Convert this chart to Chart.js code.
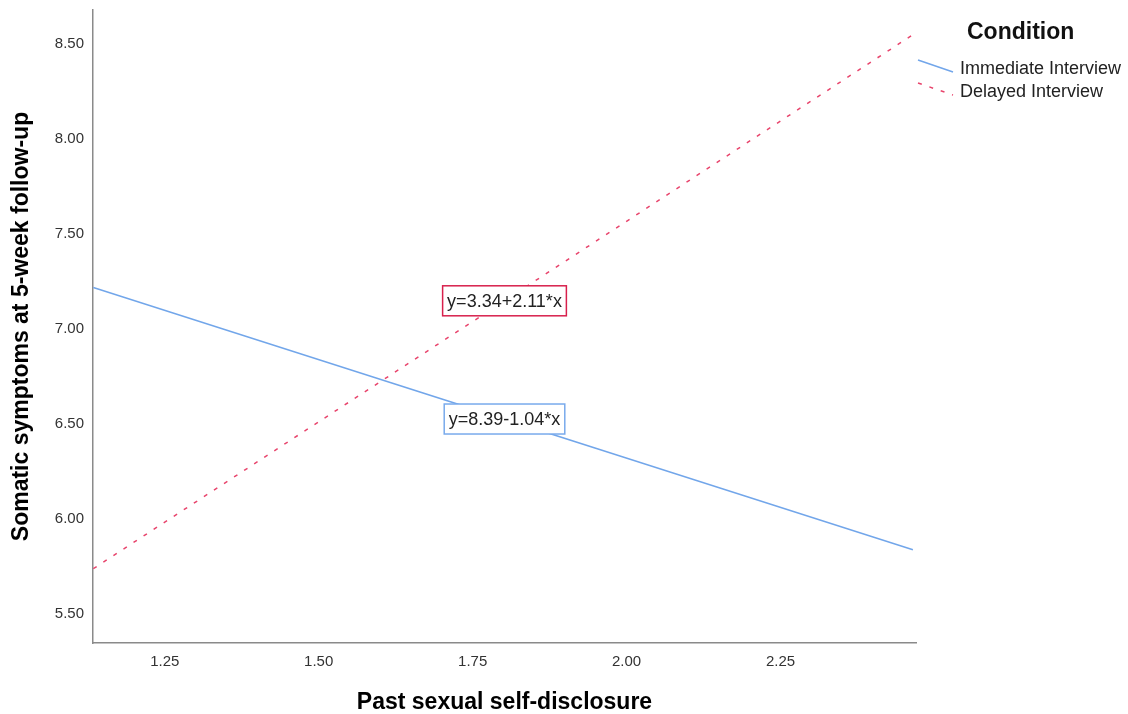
<!DOCTYPE html>
<html>
<head>
<meta charset="utf-8">
<script src="https://cdn.jsdelivr.net/npm/chart.js@4.4.1/dist/chart.umd.min.js"></script>
<style>
  html, body { margin: 0; padding: 0; background: #fff; }
  .chart-wrap { width: 1128px; height: 714px; }
</style>
</head>
<body>
<div class="chart-wrap"><canvas id="slopeChart"></canvas></div>
<script>
// Data
const conditions = ["Immediate Interview", "Delayed Interview"];
const disclosureX = [1.134, 2.465];
const immediateY = [7.22, 5.84];
const delayedY = [5.74, 8.55];
const fitLabels = ["y=8.39-1.04*x", "y=3.34+2.11*x"];
const xTicks = [1.25, 1.5, 1.75, 2.0, 2.25];
const yTicks = [5.5, 6.0, 6.5, 7.0, 7.5, 8.0, 8.5];

const FONT = "'Liberation Sans', Arial, sans-serif";
const BLUE = "#72a6ea";
const RED = "#e8446c";

function toPoints(ys) {
  return disclosureX.map(function (x, i) {
    return { x: x, y: ys[i] };
  });
}

// Fit line labels, centred on each line at the middle of the x range
const fitLabelPlugin = {
  id: "fitLabels",
  afterDatasetsDraw: function (chart) {
    const ctx = chart.ctx;
    const xs = chart.scales.x;
    const ys = chart.scales.y;
    const midX = (xs.min + xs.max) / 2;
    chart.data.datasets.forEach(function (ds, i) {
      const p0 = ds.data[0], p1 = ds.data[1];
      const t = (midX - p0.x) / (p1.x - p0.x);
      const midY = p0.y + t * (p1.y - p0.y);
      const cx = xs.getPixelForValue(midX);
      const cy = ys.getPixelForValue(midY);
      ctx.save();
      ctx.font = "18px " + FONT;
      const w = ctx.measureText(fitLabels[i]).width + 9;
      const h = 30;
      ctx.fillStyle = "#fff";
      ctx.fillRect(cx - w / 2, cy - h / 2, w, h);
      ctx.strokeStyle = ds.boxColor;
      ctx.lineWidth = 1.5;
      ctx.strokeRect(cx - w / 2, cy - h / 2, w, h);
      ctx.fillStyle = "#222";
      ctx.textAlign = "center";
      ctx.textBaseline = "middle";
      ctx.fillText(fitLabels[i], cx, cy + 1);
      ctx.restore();
    });
  },
};

// SPSS style legend with slanted line samples
const legendPlugin = {
  id: "conditionLegend",
  afterDraw: function (chart) {
    const ctx = chart.ctx;
    const x0 = chart.chartArea.right;
    ctx.save();
    ctx.fillStyle = "#111";
    ctx.font = "bold 23px " + FONT;
    ctx.textAlign = "left";
    ctx.textBaseline = "middle";
    ctx.fillText("Condition", x0 + 51, 33);

    chart.data.datasets.forEach(function (ds, i) {
      const y = 60 + i * 23;
      ctx.beginPath();
      ctx.strokeStyle = ds.borderColor;
      ctx.lineWidth = 1.5;
      ctx.setLineDash(ds.borderDash || []);
      ctx.moveTo(x0 + 2, y);
      ctx.lineTo(x0 + 37, y + 12);
      ctx.stroke();
      ctx.setLineDash([]);
      ctx.fillStyle = "#222";
      ctx.font = "18px " + FONT;
      ctx.fillText(conditions[i], x0 + 44, y + 9);
    });
    ctx.restore();
  },
};

const canvas = document.getElementById("slopeChart");
if (canvas) {
  const ctx = canvas.getContext("2d");
  const data = {
    datasets: [
      {
        label: conditions[0],
        data: toPoints(immediateY),
        borderColor: BLUE,
        boxColor: "#79aaec",
        borderWidth: 1.5,
        pointRadius: 0,
      },
      {
        label: conditions[1],
        data: toPoints(delayedY),
        borderColor: RED,
        boxColor: "#d8204c",
        borderWidth: 1.5,
        borderDash: [4, 8],
        pointRadius: 0,
      },
    ],
  };
  const options = {
    responsive: true,
    maintainAspectRatio: false,
    animation: false,
    layout: {
      padding: { top: 10, right: 212, left: 0, bottom: 0 },
    },
    plugins: {
      legend: { display: false },
      tooltip: { enabled: false },
    },
    elements: {
      line: { tension: 0 },
    },
    scales: {
      x: {
        type: "linear",
        min: 1.1335,
        max: 2.47,
        afterBuildTicks: function (scale) {
          scale.ticks = xTicks.map(function (v) {
            return { value: v };
          });
        },
        afterFit: function (scale) {
          scale.height = 71;
          scale.paddingLeft = 0;
          scale.paddingRight = 0;
        },
        ticks: {
          color: "#333",
          font: { family: FONT, size: 15 },
          padding: 10,
          maxRotation: 0,
          callback: function (v) {
            return Number(v).toFixed(2);
          },
        },
        grid: { display: false, drawTicks: false },
        border: { color: "#8a8a8a", width: 1.5 },
        title: {
          display: true,
          text: "Past sexual self-disclosure",
          color: "#000",
          font: { family: FONT, size: 23, weight: "bold", lineHeight: 1 },
          padding: { top: 0, bottom: 0 },
        },
      },
      y: {
        type: "linear",
        min: 5.349,
        max: 8.68,
        afterBuildTicks: function (scale) {
          scale.ticks = yTicks.map(function (v) {
            return { value: v };
          });
        },
        afterFit: function (scale) {
          scale.width = 93;
          scale.paddingTop = 0;
          scale.paddingBottom = 0;
        },
        ticks: {
          color: "#333",
          font: { family: FONT, size: 15 },
          padding: 9,
          callback: function (v) {
            return Number(v).toFixed(2);
          },
        },
        grid: { display: false, drawTicks: false },
        border: { color: "#8a8a8a", width: 1.5 },
        title: {
          display: true,
          text: "Somatic symptoms at 5-week follow-up",
          color: "#000",
          font: { family: FONT, size: 23, weight: "bold", lineHeight: 1 },
          padding: { top: 10, bottom: 0 },
        },
      },
    },
  };
  new Chart(ctx, {
    type: "line",
    data: data,
    options: options,
    plugins: [fitLabelPlugin, legendPlugin],
  });
}
</script>
</body>
</html>
